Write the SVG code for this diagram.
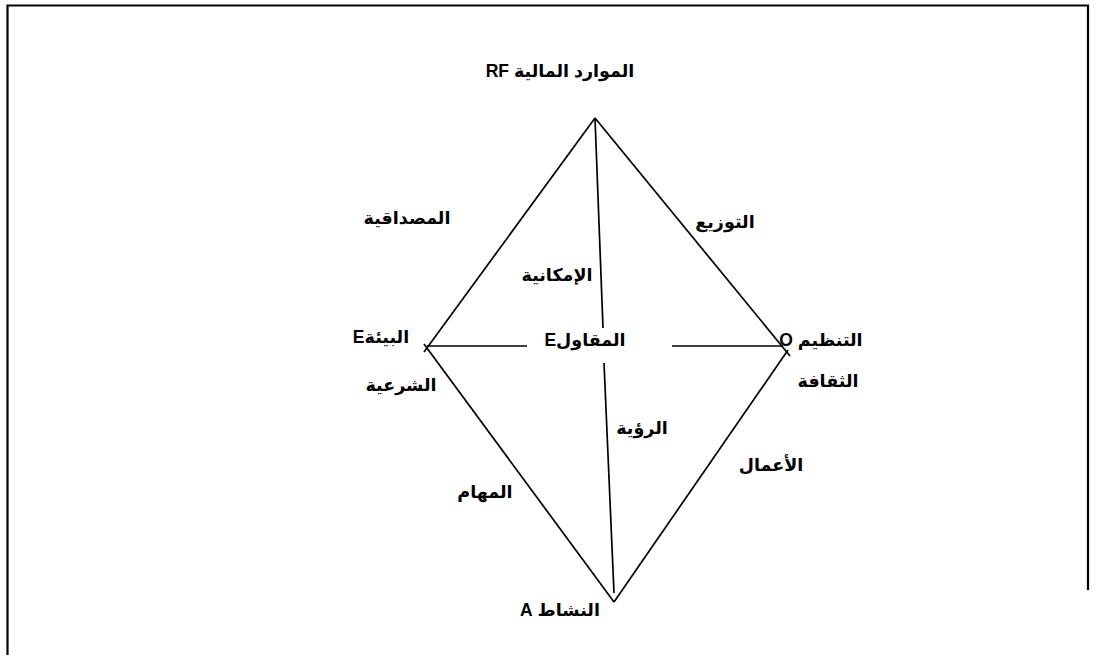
<svg xmlns="http://www.w3.org/2000/svg" width="1100" height="655" viewBox="0 0 1100 655">
<style>
.lbl{font-family:"Liberation Sans","DejaVu Sans",Arial,sans-serif;font-size:17.5px;font-weight:bold;fill:#000;text-anchor:middle}
.ln{stroke:#000;stroke-width:1.7;fill:none}
.frame{stroke:#000;stroke-width:2.2;fill:none}
</style>
<rect width="1100" height="655" fill="#fff"/>
<path class="frame" d="M7.5,655 V5.5 H1088 V590"/>
<g id="connectors">
<line class="ln" x1="595" y1="118" x2="424" y2="352"/>
<line class="ln" x1="614" y1="602" x2="424" y2="344"/>
<line class="ln" x1="595" y1="118" x2="790" y2="356"/>
<line class="ln" x1="614" y1="602" x2="788" y2="350"/>
<line class="ln" x1="427" y1="346" x2="527" y2="346"/>
<line class="ln" x1="672" y1="346" x2="783" y2="346"/>
<line class="ln" x1="595" y1="118" x2="603" y2="328"/>
<line class="ln" x1="604" y1="363" x2="614" y2="593"/>
</g>
<g id="node-rf"><text class="lbl" x="560" y="77" direction="rtl">الموارد المالية RF</text></g>
<g id="node-credibility"><text class="lbl" x="407" y="224" direction="rtl">المصداقية</text></g>
<g id="node-distribution"><text class="lbl" x="725" y="228" direction="rtl">التوزيع</text></g>
<g id="node-possibility"><text class="lbl" x="557" y="281" direction="rtl">الإمكانية</text></g>
<g id="node-environment"><text class="lbl" x="381" y="343" direction="rtl">البيئةE</text></g>
<g id="node-entrepreneur"><text class="lbl" x="585" y="346" direction="rtl">المقاولE</text></g>
<g id="node-organization"><text class="lbl" x="821" y="346" direction="rtl">التنظيم O</text></g>
<g id="node-legitimacy"><text class="lbl" x="401" y="391" direction="rtl">الشرعية</text></g>
<g id="node-culture"><text class="lbl" x="828" y="387" direction="rtl">الثقافة</text></g>
<g id="node-vision"><text class="lbl" x="642" y="434" direction="rtl">الرؤية</text></g>
<g id="node-tasks"><text class="lbl" x="485" y="498" direction="rtl">المهام</text></g>
<g id="node-business"><text class="lbl" x="771" y="471" direction="rtl">الأعمال</text></g>
<g id="node-activity"><text class="lbl" x="560" y="616" direction="rtl">النشاط A</text></g>
</svg>
